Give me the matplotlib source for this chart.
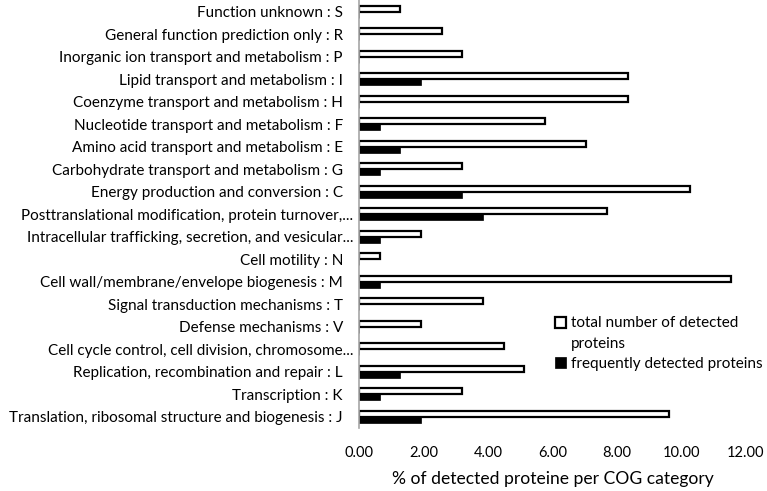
import matplotlib.pyplot as plt
import numpy as np
from matplotlib.patches import Patch

# categories listed bottom to top, as they appear on the chart
categories = [
    "Translation, ribosomal structure and biogenesis : J",
    "Transcription : K",
    "Replication, recombination and repair : L",
    "Cell cycle control, cell division, chromosome...",
    "Defense mechanisms : V",
    "Signal transduction mechanisms : T",
    "Cell wall/membrane/envelope biogenesis : M",
    "Cell motility : N",
    "Intracellular trafficking, secretion, and vesicular...",
    "Posttranslational modification, protein turnover,...",
    "Energy production and conversion : C",
    "Carbohydrate transport and metabolism : G",
    "Amino acid transport and metabolism : E",
    "Nucleotide transport and metabolism : F",
    "Coenzyme transport and metabolism : H",
    "Lipid transport and metabolism : I",
    "Inorganic ion transport and metabolism : P",
    "General function prediction only : R",
    "Function unknown : S",
]
total_detected = [9.62, 3.21, 5.13, 4.49, 1.92, 3.85, 11.54, 0.64, 1.92, 7.69,
                  10.26, 3.21, 7.05, 5.77, 8.33, 8.33, 3.21, 2.56, 1.28]
frequent_detected = [1.92, 0.64, 1.28, 0.0, 0.0, 0.0, 0.64, 0.0, 0.64, 3.85,
                     3.21, 0.64, 1.28, 0.64, 0.0, 1.92, 0.0, 0.0, 0.0]
x_ticks = [0, 2, 4, 6, 8, 10, 12]

plt.rcParams["font.family"] = ["Lato", "DejaVu Sans"]

fig = plt.figure(figsize=(7.67, 4.91), dpi=100)
ax = fig.add_axes([0.468, 0.128, 0.9726 - 0.468, 0.999 - 0.128])

y = np.arange(len(categories))
h = 0.27
total_bars = ax.barh(y + 0.135, total_detected, height=h, color="white",
                     edgecolor="black", linewidth=1.6)
freq_bars = ax.barh(y - 0.135, frequent_detected, height=h, color="black",
                    edgecolor="black", linewidth=0.5)

ax.set_ylim(-0.5, len(categories) - 0.5)
ax.set_xlim(0, 12)
ax.set_xticks(x_ticks)
ax.set_xticklabels([f"{v:.2f}" for v in x_ticks], fontsize=10.5)
ax.set_yticks(y)
ax.set_yticklabels(categories, fontsize=11)
ax.tick_params(axis="both", length=0)
ax.tick_params(axis="y", pad=11.5)
ax.tick_params(axis="x", pad=13)
for tick, label in zip(ax.yaxis.get_major_ticks(), categories):
    if label.endswith("..."):
        tick.set_pad(4)

for side in ("top", "right", "bottom"):
    ax.spines[side].set_visible(False)
ax.spines["left"].set_color("#a6a6a6")
ax.spines["left"].set_linewidth(1.2)

ax.set_xlabel("% of detected proteine per COG category", fontsize=12.6, labelpad=8)

# the first legend label wraps onto a second line with no marker, as in Excel
blank = Patch(facecolor="none", edgecolor="none")
ax.legend([total_bars, blank, freq_bars],
          ["total number of detected", "proteins", "frequently detected proteins"],
          loc="lower left", bbox_to_anchor=(0.49, 0.12), frameon=False, fontsize=11,
          handlelength=0.75, handleheight=0.75, handletextpad=0.3, labelspacing=0.4,
          borderaxespad=0)

fig.savefig("out.png", dpi=100)
